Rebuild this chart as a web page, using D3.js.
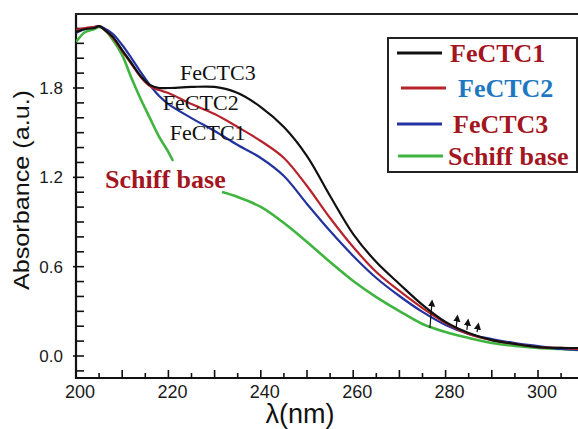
<!DOCTYPE html>
<html>
<head>
<meta charset="utf-8">
<script src="https://cdn.jsdelivr.net/npm/d3@7"></script>
<style>
  html, body { margin: 0; padding: 0; background: #fff; }
  svg { display: block; }
</style>
</head>
<body>
<div id="chart"></div>
<script>
// wavelength grid (nm) shared by the three complexes
const wavelengths = [200, 202, 204, 205, 206, 208, 210, 212, 214, 216, 218, 220, 225, 230, 235,
  240, 245, 250, 255, 260, 265, 270, 275, 280, 285, 290, 295, 300, 305, 309];

// absorbance
const fectc1 = [2.176, 2.196, 2.203, 2.216, 2.196, 2.142, 2.055, 1.968, 1.88, 1.82, 1.80, 1.80, 1.807, 1.807, 1.766,
  1.672, 1.538, 1.343, 1.075, 0.819, 0.631, 0.484, 0.343, 0.228, 0.154, 0.107, 0.081, 0.06, 0.054, 0.054];
const fectc2 = [2.19, 2.203, 2.21, 2.216, 2.196, 2.136, 2.048, 1.961, 1.874, 1.813, 1.786, 1.766, 1.692, 1.625, 1.538,
  1.444, 1.33, 1.142, 0.927, 0.732, 0.564, 0.437, 0.322, 0.222, 0.148, 0.107, 0.081, 0.06, 0.054, 0.047];
const fectc3 = [2.169, 2.196, 2.21, 2.216, 2.203, 2.163, 2.089, 2.001, 1.907, 1.82, 1.746, 1.692, 1.598, 1.511, 1.417,
  1.33, 1.209, 1.021, 0.839, 0.672, 0.524, 0.403, 0.296, 0.208, 0.148, 0.114, 0.087, 0.067, 0.047, 0.04];

// Schiff base has its own grid, broken where its label sits
const schiffWl = [200, 202, 204, 205, 206, 208, 210, 212, 214, 216, 218, 220, 221, 226,
  231.6, 235, 240, 245, 250, 255, 260, 265, 270, 275, 280, 285, 290, 295, 300, 305, 309];
const schiffAbs = [2.109, 2.176, 2.196, 2.21, 2.196, 2.122, 2.021, 1.867, 1.726, 1.598, 1.471, 1.37, 1.31, null,
  1.101, 1.068, 1.001, 0.893, 0.766, 0.631, 0.504, 0.396, 0.302, 0.215, 0.161, 0.121, 0.087, 0.067, 0.054, 0.047, 0.04];

const seriesNames = ["FeCTC1", "FeCTC2", "FeCTC3", "Schiff base"];
const seriesColors = ["#111111", "#b8232b", "#2233a0", "#3fb53f"];
const legendTextColors = ["#a3151f", "#1d78c1", "#a3151f", "#a3151f"];

// small arrows near 280 nm
const arrowWl = [276.6, 282.3, 284.6, 286.8];
const arrowFrom = [0.188, 0.195, 0.175, 0.161];
const arrowTo = [0.356, 0.255, 0.228, 0.201];

const xTickLabels = [200, 220, 240, 260, 280, 300];
const yTickLabels = [0.0, 0.6, 1.2, 1.8];

const W = 578, H = 429;
const svg = d3.select("#chart").append("svg")
  .attr("width", W)
  .attr("height", H);

const x = d3.scaleLinear().domain([200, 300]).range([76, 538]);
const y = d3.scaleLinear().domain([0, 1.8]).range([356, 88]);
const axisY = 378, axisX = 76, topY = 14;

svg.append("defs").append("marker")
  .attr("id", "head")
  .attr("viewBox", "0 0 10 10")
  .attr("refX", 5).attr("refY", 5)
  .attr("markerWidth", 6).attr("markerHeight", 7)
  .attr("orient", "auto")
  .append("path")
  .attr("d", "M0,0 L10,5 L0,10 z")
  .attr("fill", "#111");

// clip curves to the frame
svg.append("clipPath").attr("id", "plot")
  .append("rect").attr("x", axisX).attr("y", topY).attr("width", W - axisX).attr("height", axisY - topY);

// ticks (inside)
const yTicks = d3.range(-1, 23).map(d => d / 10);
svg.append("g").selectAll("line")
  .data(yTicks)
  .enter()
  .append("line")
  .attr("x1", d => yTickLabels.some(v => Math.abs(v - d) < 1e-6) ? axisX - 3 : axisX)
  .attr("x2", axisX + 8)
  .attr("y1", d => y(d))
  .attr("y2", d => y(d))
  .attr("stroke", "#111")
  .attr("stroke-width", 1.6);

const xTicks = d3.range(205, 310, 5);
svg.append("g").selectAll("line")
  .data(xTicks)
  .enter()
  .append("line")
  .attr("x1", d => x(d))
  .attr("x2", d => x(d))
  .attr("y1", axisY)
  .attr("y2", d => d % 10 === 0 ? axisY - 8 : axisY - 5)
  .attr("stroke", "#111")
  .attr("stroke-width", 1.6);

// frame
svg.append("line").attr("x1", axisX).attr("x2", axisX).attr("y1", topY).attr("y2", axisY)
  .attr("stroke", "#111").attr("stroke-width", 2.2);
svg.append("line").attr("x1", axisX - 1).attr("x2", W).attr("y1", axisY).attr("y2", axisY)
  .attr("stroke", "#111").attr("stroke-width", 2.2);
svg.append("line").attr("x1", axisX - 1).attr("x2", W).attr("y1", topY).attr("y2", topY)
  .attr("stroke", "#222").attr("stroke-width", 2);

// tick labels
svg.append("g").selectAll("text")
  .data(yTickLabels)
  .enter()
  .append("text")
  .attr("x", 63)
  .attr("y", d => y(d) + 6)
  .attr("text-anchor", "end")
  .style("font-family", "Liberation Sans, Arial, sans-serif")
  .style("font-size", "17px")
  .style("fill", "#1a1a1a")
  .text(d => d.toFixed(1));

svg.append("g").selectAll("text")
  .data(xTickLabels)
  .enter()
  .append("text")
  .attr("x", d => x(d) + 4)
  .attr("y", 398)
  .attr("text-anchor", "middle")
  .style("font-family", "Liberation Sans, Arial, sans-serif")
  .style("font-size", "18px")
  .style("fill", "#1a1a1a")
  .text(d => d);

// axis titles
svg.append("text")
  .attr("x", 300)
  .attr("y", 423)
  .attr("text-anchor", "middle")
  .style("font-family", "Liberation Sans, Arial, sans-serif")
  .style("font-size", "27px")
  .style("fill", "#111")
  .text("λ(nm)");

svg.append("text")
  .attr("transform", "translate(29,190) rotate(-90)")
  .attr("text-anchor", "middle")
  .attr("textLength", 200)
  .attr("lengthAdjust", "spacingAndGlyphs")
  .style("font-family", "Liberation Sans, Arial, sans-serif")
  .style("font-size", "22px")
  .style("fill", "#111")
  .text("Absorbance (a.u.)");

// curves
const line = d3.line()
  .defined(d => d[1] !== null)
  .x(d => x(d[0]))
  .y(d => y(d[1]))
  .curve(d3.curveCatmullRom.alpha(0.5));

const curves = [
  wavelengths.map((w, i) => [w, fectc1[i]]),
  wavelengths.map((w, i) => [w, fectc2[i]]),
  wavelengths.map((w, i) => [w, fectc3[i]]),
  schiffWl.map((w, i) => [w, schiffAbs[i]])
];

const plot = svg.append("g").attr("clip-path", "url(#plot)");
// green first so the complexes sit on top, then blue, red, black
[3, 2, 1, 0].forEach(k => {
  plot.append("path")
    .datum(curves[k])
    .attr("fill", "none")
    .attr("stroke", seriesColors[k])
    .attr("stroke-width", k === 3 ? 2.6 : 2.2)
    .attr("d", line);
});

// arrows
svg.append("g").selectAll("line")
  .data(arrowWl)
  .enter()
  .append("line")
  .attr("x1", d => x(d))
  .attr("x2", (d, i) => x(d) + (i === 0 ? 2 : 1))
  .attr("y1", (d, i) => y(arrowFrom[i]))
  .attr("y2", (d, i) => y(arrowTo[i]))
  .attr("stroke", "#111")
  .attr("stroke-width", 1.2)
  .attr("marker-end", "url(#head)");

// in-plot annotations
const serif = "Liberation Serif, Times New Roman, serif";
const notes = [
  { t: "FeCTC3", lx: 222.5, ly: 1.853 },
  { t: "FeCTC2", lx: 218.8, ly: 1.652 },
  { t: "FeCTC1", lx: 220.3, ly: 1.451 }
];
svg.append("g").selectAll("text")
  .data(notes)
  .enter()
  .append("text")
  .attr("x", d => x(d.lx))
  .attr("y", d => y(d.ly))
  .style("font-family", serif)
  .style("font-size", "22px")
  .style("fill", "#111")
  .text(d => d.t);

svg.append("text")
  .attr("x", x(206.3))
  .attr("y", y(1.128))
  .style("font-family", serif)
  .style("font-weight", "bold")
  .style("font-size", "26px")
  .style("fill", "#a3151f")
  .text("Schiff base");

// legend
const legend = svg.append("g");
legend.append("rect")
  .attr("x", 388).attr("y", 38)
  .attr("width", 189).attr("height", 134)
  .attr("fill", "#fff")
  .attr("stroke", "#222")
  .attr("stroke-width", 2);

const rowY = [53, 88, 124, 156];
const rowShift = [0, 4, 0, 1];
const textX = [450, 458, 453, 448];
seriesNames.forEach((name, i) => {
  legend.append("line")
    .attr("x1", 397 + rowShift[i]).attr("x2", 442 + rowShift[i])
    .attr("y1", rowY[i]).attr("y2", rowY[i])
    .attr("stroke", seriesColors[i])
    .attr("stroke-width", 3);
  legend.append("text")
    .attr("x", textX[i])
    .attr("y", rowY[i] + 9)
    .style("font-family", serif)
    .style("font-weight", "bold")
    .style("font-size", "26px")
    .style("fill", legendTextColors[i])
    .text(name);
});
</script>
</body>
</html>
